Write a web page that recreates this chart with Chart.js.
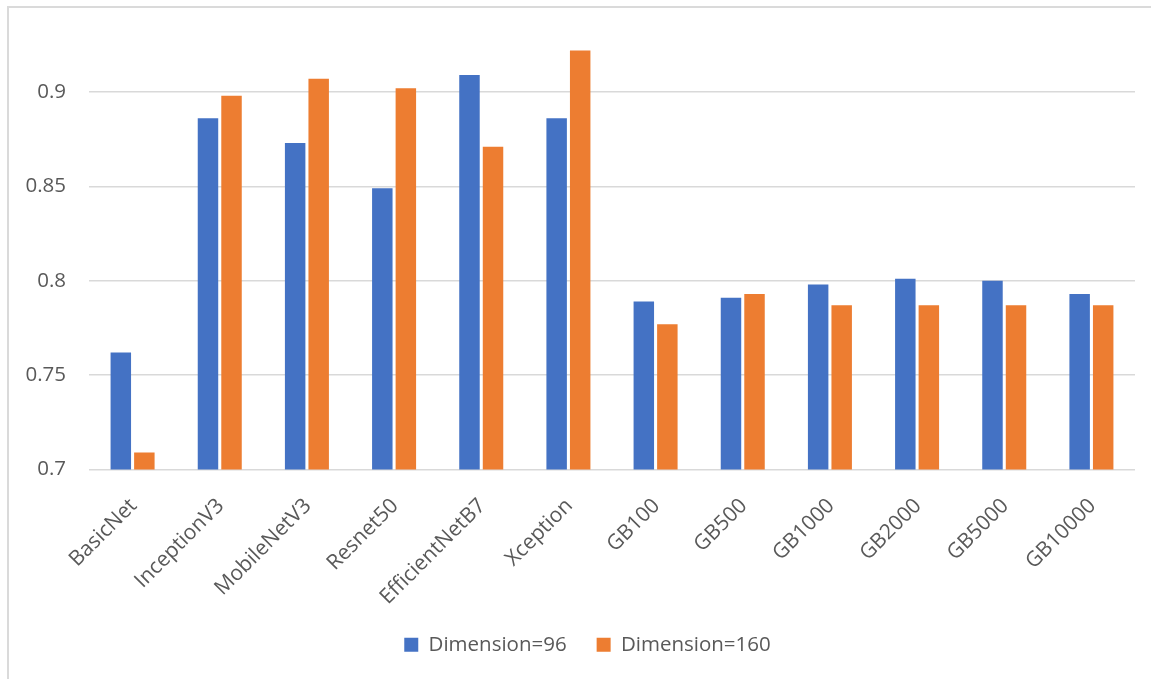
<!DOCTYPE html>
<html>
<head>
<meta charset="utf-8">
<script src="https://cdn.jsdelivr.net/npm/chart.js@4/dist/chart.umd.min.js"></script>
<style>
  html, body { margin: 0; padding: 0; background: #ffffff; }
  #wrap { position: relative; width: 1151px; height: 679px; overflow: hidden; }
  #frame {
    position: absolute; left: 7px; top: 6px; width: 1200px; height: 700px;
    border-top: 2px solid #dadada; border-left: 2px solid #dadada;
    pointer-events: none;
  }
  canvas { position: absolute; left: 0; top: 0; }
</style>
</head>
<body>
<div id="wrap">
  <canvas id="chart" width="1151" height="679"></canvas>
  <div id="frame"></div>
</div>
<script>
// Model names along the x axis
const categories = ['BasicNet', 'InceptionV3', 'MobileNetV3', 'Resnet50', 'EfficientNetB7', 'Xception',
                    'GB100', 'GB500', 'GB1000', 'GB2000', 'GB5000', 'GB10000'];

// Accuracy per model for each input dimension
const dim96  = [0.762, 0.886, 0.873, 0.849, 0.909, 0.886, 0.789, 0.791, 0.798, 0.801, 0.800, 0.793];
const dim160 = [0.709, 0.898, 0.907, 0.902, 0.871, 0.922, 0.777, 0.793, 0.787, 0.787, 0.787, 0.787];

const seriesNames = ['Dimension=96', 'Dimension=160'];

// Value axis range and tick spacing
const yMin = 0.7;
const yMax = 0.93;
const yStep = 0.05;

const textColor = '#595959';
const gridColor = '#d9d9d9';
const fontFamily = '"Open Sans", "Noto Sans", sans-serif';

// The legend row width includes trailing item padding; nudge the box so the row sits centred
const legendNudge = {
  id: 'legendNudge',
  afterLayout(chart) {
    const lg = chart.legend;
    if (lg) { lg.left += 20; lg.right += 20; }
  }
};

new Chart(document.getElementById('chart'), {
  type: 'bar',
  data: {
    labels: categories,
    datasets: [
      { label: seriesNames[0], data: dim96,  backgroundColor: '#4472c4' },
      { label: seriesNames[1], data: dim160, backgroundColor: '#ed7d31' }
    ]
  },
  plugins: [legendNudge],
  options: {
    responsive: false,
    animation: false,
    devicePixelRatio: 1,
    categoryPercentage: 0.54,
    barPercentage: 0.87,
    layout: { padding: { top: 34, right: 16, bottom: 14, left: 0 } },
    plugins: {
      tooltip: { enabled: false },
      legend: {
        position: 'bottom',
        labels: {
          color: textColor,
          font: { family: fontFamily, size: 20.5 },
          boxWidth: 14,
          boxHeight: 14,
          padding: 30
        }
      }
    },
    scales: {
      x: {
        grid: { display: false },
        border: { display: false },
        ticks: {
          color: textColor,
          font: { family: fontFamily, size: 21 },
          minRotation: 45,
          maxRotation: 45,
          autoSkip: false,
          padding: 16,
          labelOffset: 1
        },
        afterFit(scale) { scale.height = 135; }
      },
      y: {
        min: yMin,
        max: yMax,
        border: { display: false },
        grid: { color: gridColor, lineWidth: 1.5, drawTicks: false },
        ticks: {
          stepSize: yStep,
          includeBounds: false,
          color: textColor,
          font: { family: fontFamily, size: 20.5 },
          padding: 23,
          callback: (v) => String(parseFloat(Number(v).toFixed(2)))
        },
        afterFit(scale) { scale.width = 89; }
      }
    }
  }
});
</script>
</body>
</html>
